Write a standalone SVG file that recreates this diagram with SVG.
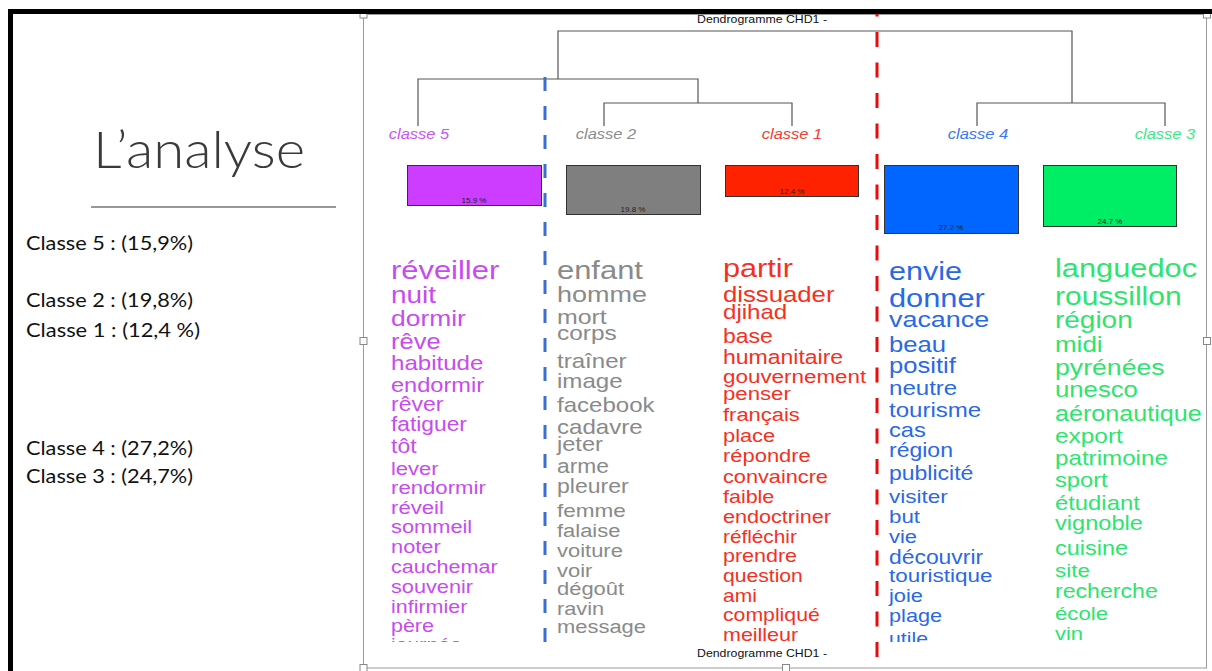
<svg xmlns="http://www.w3.org/2000/svg" width="1212" height="671" viewBox="0 0 1212 671">
<defs>
<style>
.dend{fill:none;stroke:#555;stroke-width:1.2}
.box{stroke:#333;stroke-width:1}
.pct{font-family:"Liberation Sans",Arial,sans-serif;font-size:8px;fill:#222;text-anchor:middle}
.lab{font-family:"Liberation Sans",Arial,sans-serif;font-size:14px;font-style:italic;text-anchor:middle}
.w text{font-family:"Liberation Sans",Arial,sans-serif}
.c5{fill:#C84BF0}.c2{fill:#8A8A8A}.c1{fill:#F5301E}.c4{fill:#2A68E6}.c3{fill:#2DE56E}
.side{font-family:Lato,"Open Sans",sans-serif;font-size:20px;fill:#111}
.handle{fill:#fff;stroke:#888;stroke-width:1}
.ttl{font-family:"Liberation Sans",Arial,sans-serif;font-size:11px;fill:#111}
</style>
<clipPath id="wclip"><rect x="363" y="240" width="844" height="402"/></clipPath>
</defs>
<rect width="1212" height="671" fill="#fff"/>

<g id="left-panel">
<text x="93" y="168" font-family="Lato,'Open Sans',sans-serif" font-weight="300" font-size="51" fill="#3a3a3a" textLength="212" lengthAdjust="spacingAndGlyphs">L’analyse</text>
<line x1="91" y1="207" x2="336" y2="207" stroke="#333" stroke-width="1"/>
<text class="side" x="26" y="250" textLength="167" lengthAdjust="spacingAndGlyphs">Classe 5 : (15,9%)</text>
<text class="side" x="26" y="307" textLength="167" lengthAdjust="spacingAndGlyphs">Classe 2 : (19,8%)</text>
<text class="side" x="26" y="337" textLength="174" lengthAdjust="spacingAndGlyphs">Classe 1 : (12,4 %)</text>
<text class="side" x="26" y="455" textLength="167" lengthAdjust="spacingAndGlyphs">Classe 4 : (27,2%)</text>
<text class="side" x="26" y="483" textLength="167" lengthAdjust="spacingAndGlyphs">Classe 3 : (24,7%)</text>
</g>

<g id="frame">
<rect x="363.5" y="14.5" width="843" height="653.5" fill="none" stroke="#9a9a9a" stroke-width="1"/>
<text class="ttl" x="697" y="23" textLength="130" lengthAdjust="spacingAndGlyphs">Dendrogramme CHD1 -</text>
<text class="ttl" x="697" y="657" textLength="130" lengthAdjust="spacingAndGlyphs">Dendrogramme CHD1 -</text>
</g>

<g id="connectors">
<path class="dend" d="M558,79 V31 H1072 V103"/>
<path class="dend" d="M418,126 V79 H698 V103"/>
<path class="dend" d="M604,126 V103 H792 V126"/>
<path class="dend" d="M977,126 V103 H1165 V126"/>
<line x1="545" y1="77" x2="545" y2="643" stroke="#3A6FD0" stroke-width="3" stroke-dasharray="14 15"/>
<line x1="877" y1="14" x2="877" y2="660" stroke="#EE0A0A" stroke-width="3" stroke-dasharray="15 15.5" stroke-dashoffset="12.5"/>
</g>

<g id="classe5">
<g transform="translate(419,0) scale(1.18,1)"><text class="lab" x="0" y="139" fill="#C855F5">classe 5</text></g>
<rect class="box" x="407.5" y="165.5" width="134" height="40" fill="#CC3DFF"/>
<text class="pct" x="474" y="203">15.9 %</text>
<g clip-path="url(#wclip)"><g class="w c5" transform="translate(391,0) scale(1.18,1)">
<text y="279" font-size="26.2">réveiller</text>
<text y="303" font-size="23.7">nuit</text>
<text y="326.5" font-size="22.4">dormir</text>
<text y="349" font-size="21.6">rêve</text>
<text y="370" font-size="20.4">habitude</text>
<text y="392" font-size="20">endormir</text>
<text y="411" font-size="19.5">rêver</text>
<text y="431.5" font-size="19.3">fatiguer</text>
<text y="453.5" font-size="19.5">tôt</text>
<text y="475" font-size="18.6">lever</text>
<text y="494" font-size="18.8">rendormir</text>
<text y="514" font-size="18.8">réveil</text>
<text y="533" font-size="18.5">sommeil</text>
<text y="553" font-size="18.5">noter</text>
<text y="573" font-size="18.3">cauchemar</text>
<text y="593" font-size="18.4">souvenir</text>
<text y="613" font-size="18.2">infirmier</text>
<text y="632" font-size="18.2">père</text>
<text y="651" font-size="18">journée</text>
</g></g>
</g>

<g id="classe2">
<g transform="translate(606,0) scale(1.18,1)"><text class="lab" x="0" y="139" fill="#8C8C8C">classe 2</text></g>
<rect class="box" x="566.5" y="165.5" width="134" height="49" fill="#7F7F7F"/>
<text class="pct" x="633" y="212">19.8 %</text>
<g clip-path="url(#wclip)"><g class="w c2" transform="translate(557,0) scale(1.18,1)">
<text y="279" font-size="26.2">enfant</text>
<text y="302.5" font-size="22.9">homme</text>
<text y="324" font-size="21.1">mort</text>
<text y="340" font-size="20.7">corps</text>
<text y="368" font-size="20.4">traîner</text>
<text y="388" font-size="20.4">image</text>
<text y="412" font-size="20.4">facebook</text>
<text y="434" font-size="20.4">cadavre</text>
<text y="451" font-size="20">jeter</text>
<text y="473.5" font-size="19.3">arme</text>
<text y="493" font-size="19.5">pleurer</text>
<text y="517" font-size="19.1">femme</text>
<text y="537" font-size="18.6">falaise</text>
<text y="557" font-size="18.6">voiture</text>
<text y="577" font-size="18.6">voir</text>
<text y="595" font-size="18.6">dégoût</text>
<text y="615" font-size="18.4">ravin</text>
<text y="633" font-size="18.6">message</text>
</g></g>
</g>

<g id="classe1">
<g transform="translate(792,0) scale(1.18,1)"><text class="lab" x="0" y="139" fill="#F04030">classe 1</text></g>
<rect class="box" x="725.5" y="165.5" width="133" height="31" fill="#FF2200"/>
<text class="pct" x="792" y="194">12.4 %</text>
<g clip-path="url(#wclip)"><g class="w c1" transform="translate(723,0) scale(1.18,1)">
<text y="277" font-size="26">partir</text>
<text y="302" font-size="21.8">dissuader</text>
<text y="319" font-size="20.4">djihad</text>
<text y="343" font-size="19.5">base</text>
<text y="364" font-size="19.5">humanitaire</text>
<text y="383" font-size="19">gouvernement</text>
<text y="400" font-size="18.8">penser</text>
<text y="421" font-size="18.6">français</text>
<text y="442" font-size="18.5">place</text>
<text y="462" font-size="18.6">répondre</text>
<text y="483" font-size="18.4">convaincre</text>
<text y="503" font-size="18.2">faible</text>
<text y="523" font-size="18.3">endoctriner</text>
<text y="543" font-size="17.6">réfléchir</text>
<text y="562" font-size="18.2">prendre</text>
<text y="582" font-size="17.9">question</text>
<text y="602" font-size="17.8">ami</text>
<text y="621" font-size="18">compliqué</text>
<text y="641.5" font-size="18.2">meilleur</text>
</g></g>
</g>

<g id="classe4">
<g transform="translate(978,0) scale(1.18,1)"><text class="lab" x="0" y="139" fill="#3A78F0">classe 4</text></g>
<rect class="box" x="884.5" y="165.5" width="134" height="68" fill="#0066FF"/>
<text class="pct" x="951" y="230">27.2 %</text>
<g clip-path="url(#wclip)"><g class="w c4" transform="translate(889,0) scale(1.18,1)">
<text y="280" font-size="25.9">envie</text>
<text y="307" font-size="26.1">donner</text>
<text y="327" font-size="22.8">vacance</text>
<text y="352" font-size="21.7">beau</text>
<text y="373" font-size="21.7">positif</text>
<text y="395" font-size="20.4">neutre</text>
<text y="417" font-size="20.4">tourisme</text>
<text y="437" font-size="20.1">cas</text>
<text y="457" font-size="19.5">région</text>
<text y="480" font-size="19.5">publicité</text>
<text y="503" font-size="19.1">visiter</text>
<text y="523" font-size="18.9">but</text>
<text y="543" font-size="18.6">vie</text>
<text y="564" font-size="19.4">découvrir</text>
<text y="582" font-size="19">touristique</text>
<text y="602" font-size="18.5">joie</text>
<text y="622" font-size="18.4">plage</text>
<text y="645" font-size="18">utile</text>
</g></g>
</g>

<g id="classe3">
<g transform="translate(1165,0) scale(1.18,1)"><text class="lab" x="0" y="139" fill="#3CE88A">classe 3</text></g>
<rect class="box" x="1043.5" y="165.5" width="133" height="61" fill="#00EE66"/>
<text class="pct" x="1110" y="224">24.7 %</text>
<g clip-path="url(#wclip)"><g class="w c3" transform="translate(1055,0) scale(1.18,1)">
<text y="277" font-size="26.1">languedoc</text>
<text y="305" font-size="25.4">roussillon</text>
<text y="328" font-size="23.7">région</text>
<text y="352" font-size="22">midi</text>
<text y="375" font-size="22.6">pyrénées</text>
<text y="397" font-size="21.8">unesco</text>
<text y="421" font-size="21.3">aéronautique</text>
<text y="443" font-size="20.7">export</text>
<text y="465" font-size="20.5">patrimoine</text>
<text y="487" font-size="20.1">sport</text>
<text y="510" font-size="20.2">étudiant</text>
<text y="530" font-size="20">vignoble</text>
<text y="555" font-size="19.9">cuisine</text>
<text y="577" font-size="19">site</text>
<text y="598" font-size="19.6">recherche</text>
<text y="620" font-size="18.8">école</text>
<text y="640" font-size="18.6">vin</text>
</g></g>
</g>

<g id="handles">
<rect class="handle" x="360" y="11" width="7" height="7"/>
<rect class="handle" x="1203.5" y="11" width="7" height="7"/>
<rect class="handle" x="360" y="337.5" width="7" height="7"/>
<rect class="handle" x="1203.5" y="337.5" width="7" height="7"/>
<rect class="handle" x="360" y="664.5" width="7" height="7"/>
<rect class="handle" x="782.5" y="664.5" width="7" height="7"/>
</g>

<g id="slide-border">
<rect x="8" y="9" width="1204" height="5" fill="#000"/>
<rect x="8" y="9" width="5" height="662" fill="#000"/>
</g>
</svg>
